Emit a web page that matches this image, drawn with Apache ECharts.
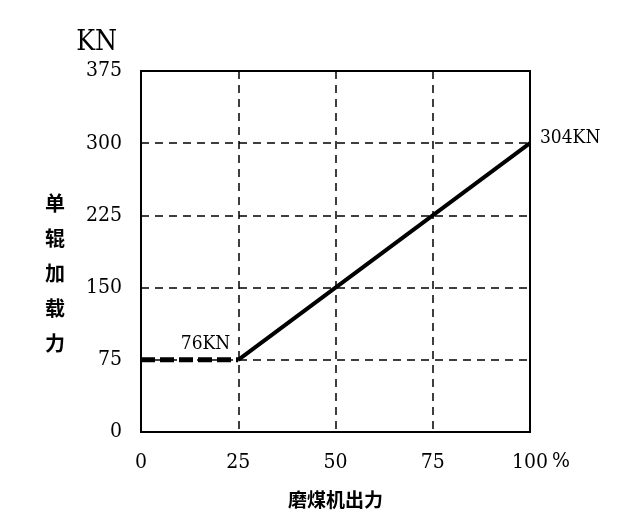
<!DOCTYPE html>
<html>
<head>
<meta charset="utf-8">
<script src="https://cdn.jsdelivr.net/npm/echarts@6/dist/echarts.min.js"></script>
<style>html,body{margin:0;padding:0;background:#fff;}#c{width:634px;height:520px;}</style>
</head>
<body>
<div id="c"></div>
<script>
const xTicks = [0, 25, 50, 75, 100];
const yTicks = [0, 75, 150, 225, 300, 375];
const outputPct = [0, 25, 100];
const loadKN = [75, 75, 300];
const pointLabels = ['', '76KN', '304KN'];
const xName = '磨煤机出力';
const yName = '单辊加载力';
const yUnit = 'KN';
const xUnit = '%';

const numFont = '"DejaVu Serif Condensed", "DejaVu Serif", "Liberation Serif", serif';
const cjkFont = '"Noto Sans CJK SC", sans-serif';

const dashedPart = [[outputPct[0], loadKN[0]], [outputPct[1], loadKN[1]]];
const solidPart = [
  { value: [outputPct[1], loadKN[1]], label: { show: true, formatter: pointLabels[1], position: 'left', offset: [-2, -16] } },
  { value: [outputPct[2], loadKN[2]], label: { show: true, formatter: pointLabels[2], position: 'right', offset: [4, -5] } }
];

const chart = echarts.init(document.getElementById('c'));
chart.setOption({
  animation: false,
  backgroundColor: '#fff',
  grid: { left: 141, right: 104, top: 71, bottom: 88, show: true, borderColor: '#000', borderWidth: 2, backgroundColor: 'transparent' },
  xAxis: {
    type: 'value', min: xTicks[0], max: xTicks[xTicks.length - 1], interval: 25,
    axisLine: { show: true, lineStyle: { color: '#000', width: 2 } },
    axisTick: { show: false },
    axisLabel: { color: '#000', fontFamily: numFont, fontSize: 21, margin: 20 },
    splitLine: { show: true, lineStyle: { color: '#000', width: 1.5, type: [8, 6] } }
  },
  yAxis: {
    type: 'value', min: yTicks[0], max: yTicks[yTicks.length - 1], interval: 75,
    name: yUnit, nameLocation: 'end', nameGap: 14,
    nameTextStyle: { color: '#000', fontFamily: numFont, fontSize: 28, align: 'right', padding: [0, 24, 0, 0] },
    axisLine: { show: true, lineStyle: { color: '#000', width: 2 } },
    axisTick: { show: false },
    axisLabel: { color: '#000', fontFamily: numFont, fontSize: 21, margin: 19 },
    splitLine: { show: true, lineStyle: { color: '#000', width: 1.5, type: [8, 6] } }
  },
  graphic: [
    { type: 'text', left: 288, top: 490, style: { text: xName, fill: '#000', font: 'bold 19px ' + cjkFont } },
    { type: 'text', left: 45, top: 186, style: { text: yName.split('').join('\n'), fill: '#000', font: 'bold 20px ' + cjkFont, lineHeight: 35 } },
    { type: 'text', left: 552, top: 451, style: { text: xUnit, fill: '#000', font: '21px ' + numFont } }
  ],
  series: [
    {
      type: 'line', data: dashedPart, symbol: 'none', z: 5,
      lineStyle: { color: '#000', width: 5, type: [14, 5] }
    },
    {
      type: 'line', data: solidPart, symbol: 'circle', symbolSize: 2, showSymbol: true, z: 5,
      itemStyle: { color: '#000' },
      lineStyle: { color: '#000', width: 4 },
      label: { color: '#000', fontFamily: numFont, fontSize: 19 }
    }
  ]
});
</script>
</body>
</html>
